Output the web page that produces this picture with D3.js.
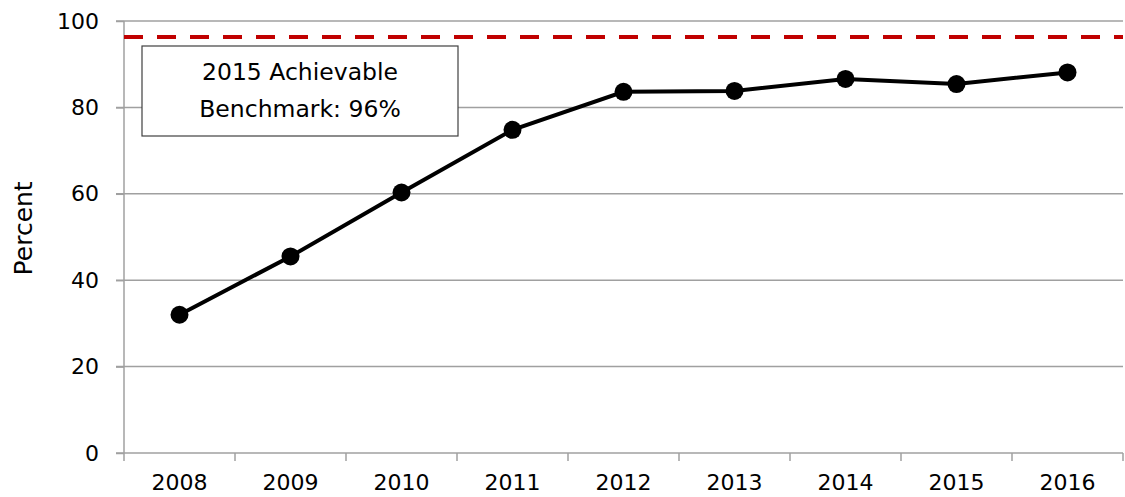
<!DOCTYPE html>
<html>
<head>
<meta charset="utf-8">
<script src="https://cdn.jsdelivr.net/npm/d3@7"></script>
<style>
  body { margin: 0; background: #fff; }
  text { font-family: "DejaVu Sans", Tahoma, sans-serif; }
</style>
</head>
<body>
<div class="chart"></div>
<script>
// data
var years = ['2008', '2009', '2010', '2011', '2012', '2013', '2014', '2015', '2016'];
var percent = [32, 45.5, 60.3, 74.8, 83.6, 83.8, 86.6, 85.4, 88.1];
var benchmark = 96.3;
var yTicks = [0, 20, 40, 60, 80, 100];
var boxLines = ['2015 Achievable', 'Benchmark: 96%'];

const W = 1125, H = 497;
var margin = ({top: 21, right: 2, bottom: 44, left: 124});
const width = W - margin.left - margin.right;
const height = H - margin.top - margin.bottom;
const fontSize = '22px';

var svg = d3.select('.chart')
            .append('svg')
            .attr('width', W)
            .attr('height', H)
            .append('g')
            .attr('transform', `translate(${margin.left},${margin.top})`);

var x = d3.scaleBand().domain(years).range([0, width]);
var y = d3.scaleLinear().domain([0, 100]).range([height, 0]);

// gridlines
svg.selectAll('.grid')
    .data(yTicks.filter(d => d > 0))
    .enter()
    .append('line')
    .attr('x1', -8)
    .attr('x2', width)
    .attr('y1', d => y(d))
    .attr('y2', d => y(d))
    .attr('stroke', '#a0a0a0')
    .attr('stroke-width', 1.5);

// y axis
var yAxis = svg.append('g')
    .call(d3.axisLeft(y).tickValues(yTicks).tickSize(8).tickPadding(17));
yAxis.select('.domain').attr('stroke', '#a0a0a0').attr('stroke-width', 1.5).attr('d', `M0,0V${height}`);
yAxis.selectAll('.tick line').attr('stroke', '#a0a0a0').attr('stroke-width', 1.5);
yAxis.selectAll('text').style('font-size', fontSize).attr('fill', '#000');

// x axis
var xAxis = svg.append('g')
    .attr('transform', `translate(0,${height})`)
    .call(d3.axisBottom(x).tickSize(0).tickPadding(21));
xAxis.select('.domain').attr('stroke', '#a0a0a0').attr('stroke-width', 1.5).attr('d', `M-8,0H${width}`);
xAxis.selectAll('text').style('font-size', fontSize).attr('fill', '#000');
// ticks between categories
svg.selectAll('.xtick')
    .data(years.concat(['end']))
    .enter()
    .append('line')
    .attr('x1', (d, i) => i * x.step())
    .attr('x2', (d, i) => i * x.step())
    .attr('y1', height)
    .attr('y2', height + 8)
    .attr('stroke', '#a0a0a0')
    .attr('stroke-width', 1.5);

// y label
svg.append('text')
    .attr('transform', `translate(${-margin.left + 32},${y(52)}) rotate(-90)`)
    .attr('text-anchor', 'middle')
    .style('font-size', '25px')
    .text('Percent');

// benchmark line
svg.append('line')
    .attr('x1', 0)
    .attr('x2', width)
    .attr('y1', y(benchmark))
    .attr('y2', y(benchmark))
    .attr('stroke', '#c00000')
    .attr('stroke-width', 4)
    .attr('stroke-dasharray', '19,14');

// annotation box
var box = svg.append('g').attr('transform', `translate(18,25)`);
box.append('rect')
    .attr('width', 316)
    .attr('height', 90)
    .attr('fill', '#fff')
    .attr('stroke', '#404040')
    .attr('stroke-width', 1.2);
box.selectAll('text')
    .data(boxLines)
    .enter()
    .append('text')
    .attr('x', 158)
    .attr('y', (d, i) => 34 + i * 37)
    .attr('text-anchor', 'middle')
    .style('font-size', '23.5px')
    .text(d => d);

// series line
var line = d3.line()
    .x((d, i) => x(years[i]) + x.bandwidth() / 2)
    .y(d => y(d));

svg.append('path')
    .datum(percent)
    .attr('d', line)
    .attr('fill', 'none')
    .attr('stroke', '#000')
    .attr('stroke-width', 4);

svg.selectAll('.dot')
    .data(percent)
    .enter()
    .append('circle')
    .attr('cx', (d, i) => x(years[i]) + x.bandwidth() / 2)
    .attr('cy', d => y(d))
    .attr('r', 9)
    .attr('fill', '#000');
</script>
</body>
</html>
